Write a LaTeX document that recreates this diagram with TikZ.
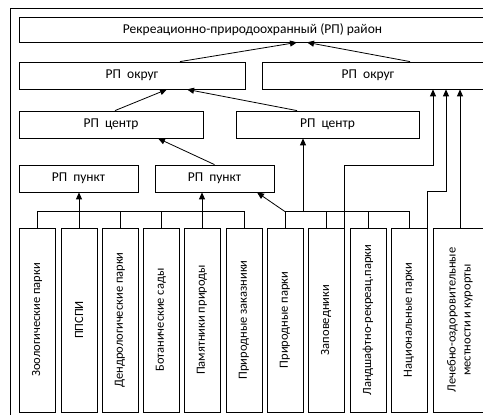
\documentclass[tikz,border=0pt]{standalone}
\usepackage{fontspec}
\setmainfont{Carlito}
\usetikzlibrary{arrows.meta}

\begin{document}
\begin{tikzpicture}[x=1pt, y=1pt, line width=0.8pt, >={Triangle[length=7pt,width=6pt]}]
    \tikzstyle{every node} = [rectangle, draw, inner sep=0pt, font=\fontsize{13.5}{15}\selectfont]
    \tikzstyle{vbox} = [rotate=90, minimum width=184pt, minimum height=36pt, align=center, font=\fontsize{12.5}{15}\selectfont]

    \useasboundingbox (0,0) rectangle (483,415);
    \clip (0,0) rectangle (483,415);

    \draw (10,-5) |- (495,407);

    \node (a) at (252.5,385.5) [minimum width=467pt, minimum height=25pt] {Рекреационно-природоохранный (РП) район};

    \node (b) at (132,339.5) [minimum width=226pt, minimum height=27pt] {РП\ \ округ};
    \node (c) at (374,339.5) [minimum width=224pt, minimum height=27pt] {РП\ \ округ\hspace*{12pt}};

    \node (d) at (111,290.5) [minimum width=184pt, minimum height=27pt] {РП\ \ центр};
    \node (e) at (327.5,290.5) [minimum width=183pt, minimum height=27pt] {РП\ \ центр};

    \node (f) at (78.5,236.5) [minimum width=119pt, minimum height=27pt] {РП\ \ пункт};
    \node (g) at (214.5,236.5) [minimum width=119pt, minimum height=27pt] {РП\ \ пункт};

    \node (h) at (37,95) [vbox] {Зоологические парки};
    \node (i) at (79,95) [vbox] {ППСПИ};
    \node (j) at (120,95) [vbox] {Дендрологические парки};
    \node (k) at (161,95) [vbox] {Ботанические сады};
    \node (l) at (202,95) [vbox] {Памятники природы};
    \node (m) at (244,95) [vbox] {Природные заказники};
    \node (n) at (285,95) [vbox] {Природные парки};
    \node (o) at (326,95) [vbox] {Заповедники};
    \node (p) at (368,95) [vbox] {Ландшафтно-рекреац.парки};
    \node (q) at (409,95) [vbox] {Национальные парки};
    \node (r) at (460,95) [vbox, minimum height=54pt] {Лечебно-оздоровительные \\ местности и курорты};

    \draw [->] ([xshift=48pt]b.north) -- ([xshift=44.5pt]a.south);
    \draw [->] ([xshift=36pt]c.north) -- ([xshift=54.5pt]a.south);

    \draw [->] ([xshift=4pt]d.north) -- ([xshift=35pt]b.south);
    \draw [->] ([xshift=-30.5pt]e.north) -- ([xshift=55pt]b.south);

    \draw [->] (g.north) -- ([xshift=47pt]d.south);
    \draw [->] (i.east |- f.south) ++(0,-27) -- (i.east |- f.south);
    \draw [->] (l.east |- g.south) ++(0,-20) -- (l.east |- g.south);

    % left group
    \draw (h.east) -- ++(0,16) -| (m.east);
    \draw (i.east) -- ++(0,16);
    \draw (j.east) -- ++(0,16);
    \draw (k.east) -- ++(0,16);
    \draw (l.east) -- ++(0,16);

    % right group
    \draw (n.east) -- ++(0,16) -| (q.east);
    \draw (o.east) -- ++(0,16);
    \draw (p.east) -- ++(0,16);
    \draw [->] (n.east) ++(0,16) -- ([xshift=42.5pt]g.south);
    \draw [<-] ([xshift=-24.5pt]e.south) -- ++(0,-74);

    \draw [->] (o.south east) -- ++(0,62) -| ([xshift=59pt]c.south);
    \draw [->] (q.south east) -- ++(0,36) -| ([xshift=72pt]c.south);
    \draw [->] (r.east) -- (r.east |- c.south);
\end{tikzpicture}
\end{document}
